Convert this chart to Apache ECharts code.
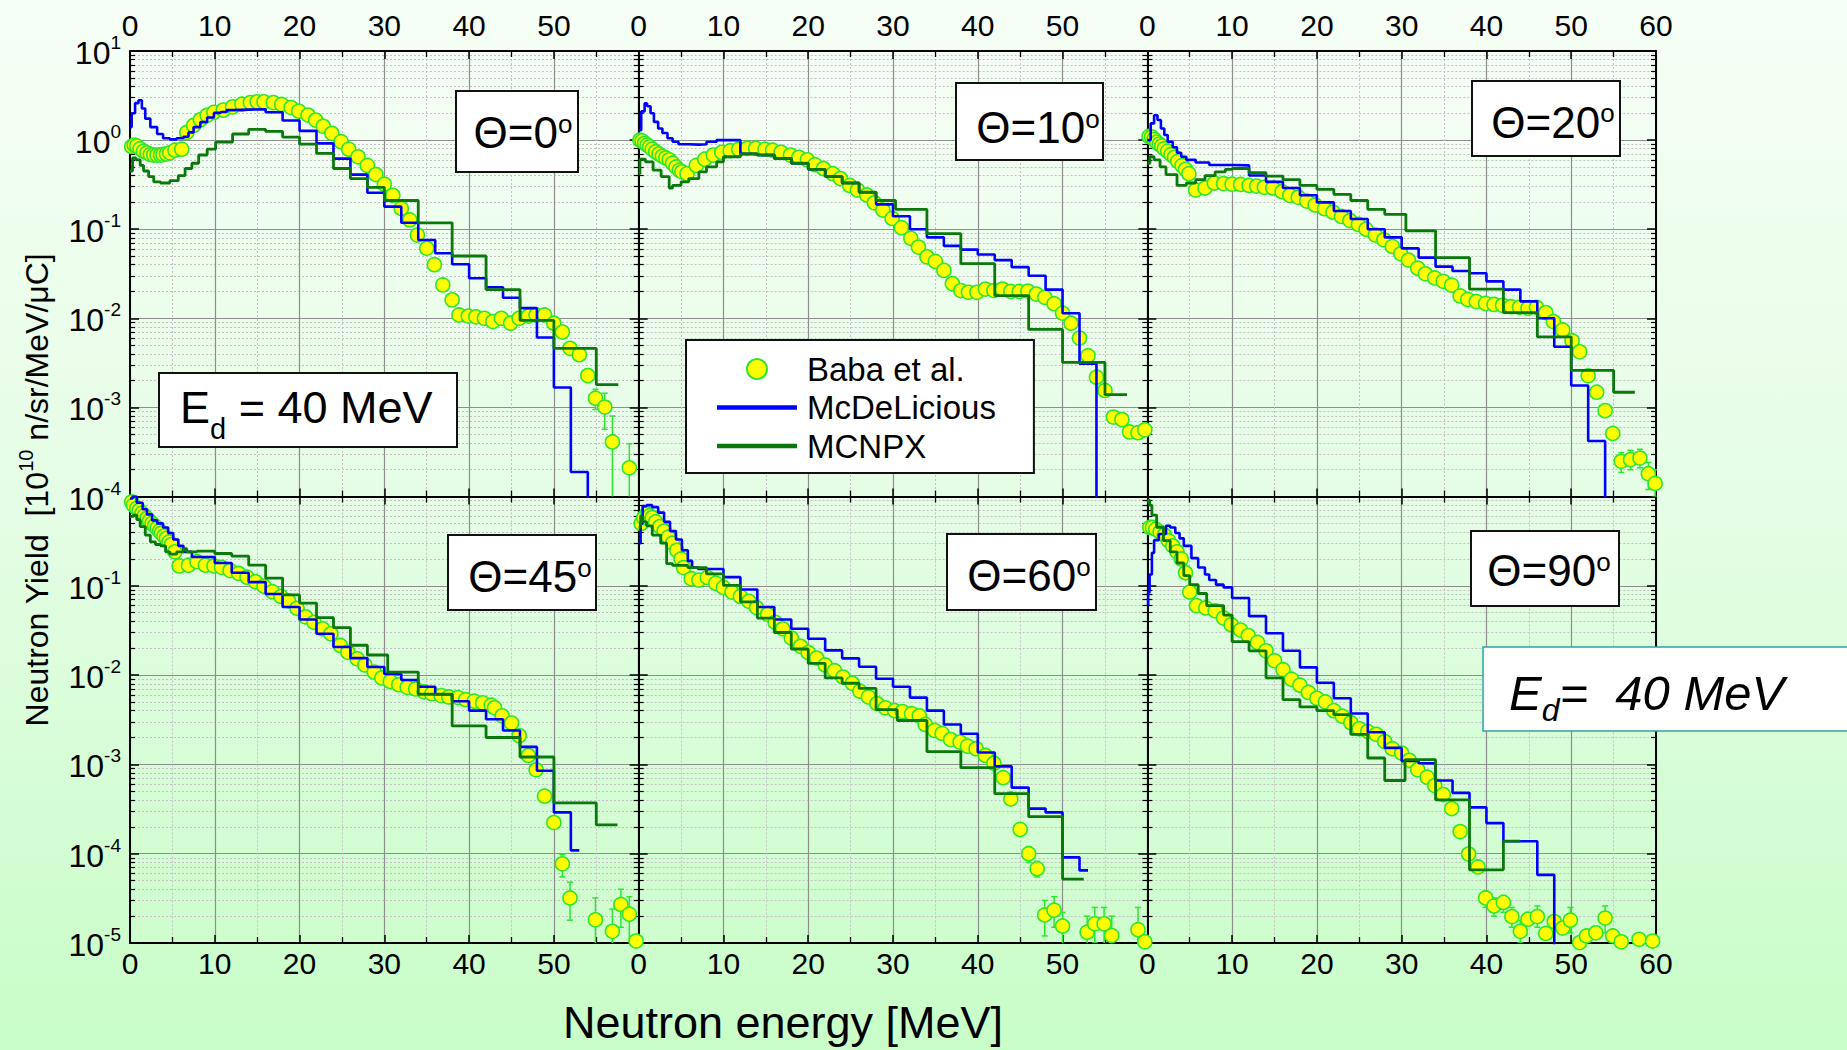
<!DOCTYPE html>
<html><head><meta charset="utf-8">
<script src="https://cdn.jsdelivr.net/npm/echarts@6/dist/echarts.min.js"></script>
<style>
html,body{margin:0;padding:0;width:1847px;height:1050px;overflow:hidden;background:linear-gradient(180deg,#f6fff6 0%,#e4fde4 50%,#c8fdc8 100%);}
#c{width:1847px;height:1050px;}
</style>
</head><body><div id="c"></div>
<script>
// ---------------- DATA ----------------
const panelAngles = ['0','10','20','45','60','90'];
const xTicks = [0,10,20,30,40,50,60];
const seriesNames = ['Baba et al.', 'McDeLicious', 'MCNPX'];

// Baba et al. measurements [E (MeV), yield]
const baba0 = [[0.2,0.85],[0.5,0.88],[0.8,0.86],[1.2,0.80],[1.6,0.75],[2.0,0.72],[2.4,0.69],[2.8,0.68],[3.2,0.68],[3.6,0.68],[3.9,0.69],[4.3,0.70],[4.7,0.72],[5.3,0.77],[6.1,0.79],[6.7,1.22],[7.5,1.46],[8.3,1.69],[9.1,1.90],[9.9,2.05],[11.0,2.17],[12.1,2.36],[13.2,2.53],[14.2,2.64],[15.0,2.69],[15.8,2.69],[16.9,2.64],[17.9,2.51],[19.0,2.32],[19.9,2.11],[21.0,1.91],[21.9,1.68],[22.8,1.43],[23.8,1.19],[24.9,0.96],[25.8,0.79],[26.9,0.65],[28.0,0.52],[29.0,0.41],[30.0,0.32],[31.0,0.24],[32.0,0.171],[33.0,0.127],[33.9,0.086],[35.0,0.061],[35.9,0.040],[36.9,0.0237],[38.0,0.0161],[38.8,0.0109],[39.9,0.0106],[40.8,0.0104],[41.8,0.0100],[42.8,0.0092],[43.8,0.0100],[44.9,0.0088],[45.9,0.0100],[47.0,0.0106],[47.9,0.0109],[48.9,0.0109],[50.0,0.0088],[51.0,0.0070],[51.9,0.0046],[53.0,0.0039],[54.0,0.00228],[54.9,0.00127],[56.0,0.00101],[56.9,0.00041],[58.9,0.00021]];
const baba1 = [[0.15,1.0],[0.4,0.98],[0.7,0.92],[1.0,0.88],[1.3,0.84],[1.6,0.79],[2.0,0.74],[2.4,0.70],[2.8,0.66],[3.2,0.63],[3.6,0.60],[4.0,0.55],[4.4,0.50],[4.8,0.46],[5.1,0.44],[5.7,0.42],[6.8,0.52],[7.8,0.61],[8.8,0.68],[9.8,0.73],[10.8,0.76],[11.8,0.79],[12.8,0.81],[13.8,0.81],[14.9,0.79],[15.8,0.77],[16.8,0.73],[17.9,0.68],[18.9,0.64],[19.9,0.60],[20.8,0.53],[21.8,0.48],[22.9,0.42],[23.8,0.37],[24.9,0.31],[25.8,0.275],[26.9,0.242],[27.8,0.198],[28.8,0.164],[29.9,0.132],[31.0,0.104],[32.1,0.079],[33.0,0.063],[34.0,0.049],[35.0,0.0435],[36.0,0.0345],[37.0,0.0245],[38.0,0.0205],[38.9,0.0196],[39.9,0.0196],[40.9,0.0213],[41.9,0.0205],[42.9,0.0213],[43.9,0.0200],[44.9,0.0200],[45.9,0.0202],[46.9,0.0187],[47.9,0.0172],[49.0,0.0146],[50.0,0.0114],[51.0,0.0088],[52.0,0.0060],[53.0,0.0038],[54.0,0.00218],[55.0,0.00155],[56.0,0.00078],[57.0,0.00073],[57.9,0.00053],[58.9,0.00052],[59.7,0.00056]];
const baba2 = [[0.2,1.10],[0.5,1.09],[0.8,1.02],[1.1,0.95],[1.4,0.90],[1.7,0.86],[2.0,0.80],[2.4,0.75],[2.8,0.69],[3.2,0.64],[3.6,0.58],[4.1,0.52],[4.5,0.47],[4.9,0.42],[5.7,0.275],[6.8,0.29],[7.9,0.33],[9.0,0.325],[10.0,0.32],[11.0,0.318],[12.0,0.31],[12.9,0.305],[13.8,0.295],[14.8,0.29],[15.9,0.264],[16.8,0.24],[17.8,0.228],[18.8,0.207],[19.8,0.187],[20.9,0.17],[21.9,0.155],[22.9,0.139],[23.9,0.125],[24.9,0.113],[25.8,0.10],[26.9,0.086],[27.9,0.076],[28.9,0.064],[29.9,0.053],[30.8,0.045],[31.9,0.0365],[32.8,0.0316],[33.9,0.0284],[34.9,0.026],[35.9,0.0235],[36.9,0.0178],[37.8,0.0163],[38.8,0.0154],[39.9,0.0147],[40.9,0.0143],[41.9,0.0140],[42.9,0.0135],[43.9,0.0133],[44.9,0.0130],[45.9,0.0133],[47.0,0.0116],[47.9,0.0092],[49.0,0.0074],[50.1,0.0056],[51.0,0.0042],[52.0,0.00226],[53.0,0.00148],[54.0,0.00092],[54.9,0.00051],[55.9,0.000248],[57.0,0.00026],[58.1,0.00027],[59.1,0.00018],[59.9,0.00014]];
const baba3 = [[0.2,0.87],[0.4,0.80],[0.8,0.74],[1.1,0.70],[1.4,0.65],[1.7,0.61],[2.0,0.57],[2.3,0.53],[2.6,0.50],[2.9,0.47],[3.2,0.44],[3.5,0.41],[3.7,0.39],[4.0,0.36],[4.3,0.34],[4.6,0.31],[4.9,0.29],[5.3,0.24],[5.8,0.167],[6.9,0.17],[7.9,0.186],[8.9,0.17],[9.9,0.167],[10.8,0.161],[11.8,0.148],[12.8,0.138],[13.8,0.125],[14.8,0.111],[15.8,0.099],[16.8,0.086],[17.8,0.076],[18.7,0.068],[19.7,0.056],[20.7,0.045],[21.7,0.039],[22.7,0.033],[23.7,0.029],[24.8,0.0215],[25.7,0.018],[26.8,0.0152],[27.7,0.013],[28.8,0.0108],[29.7,0.0093],[30.7,0.0085],[31.7,0.0078],[32.7,0.0073],[33.7,0.0070],[34.7,0.0065],[35.6,0.0062],[36.7,0.0059],[37.6,0.0057],[38.7,0.0056],[39.6,0.0053],[40.6,0.0051],[41.6,0.0049],[42.6,0.0046],[43.0,0.0043],[43.9,0.0035],[45.0,0.0029],[45.9,0.0021],[47.0,0.00126],[47.9,0.00087],[48.9,0.00044],[50.0,0.000223],[51.0,0.000077],[51.9,0.000032],[54.9,0.0000182],[56.9,0.0000135],[57.9,0.000027],[58.9,0.000021],[59.7,0.0000105]];
const baba4 = [[0.3,0.50],[0.6,0.58],[1.0,0.64],[1.3,0.61],[1.6,0.58],[2.0,0.52],[2.5,0.46],[3.0,0.41],[3.5,0.35],[4.0,0.30],[4.5,0.25],[5.0,0.20],[5.3,0.16],[6.2,0.12],[7.1,0.116],[8.1,0.124],[9.1,0.107],[10.0,0.096],[11.0,0.085],[12.0,0.076],[13.0,0.067],[13.9,0.057],[15.2,0.048],[16.1,0.039],[17.0,0.033],[18.0,0.026],[19.1,0.021],[20.0,0.0179],[21.0,0.0155],[22.0,0.0130],[23.1,0.0112],[24.1,0.0095],[25.2,0.0081],[26.1,0.0066],[27.1,0.0057],[28.1,0.0048],[29.1,0.0043],[30.2,0.0040],[31.1,0.0039],[32.2,0.0037],[33.1,0.0035],[33.8,0.0028],[34.9,0.0024],[35.8,0.00222],[36.8,0.0019],[37.9,0.00178],[38.8,0.0016],[39.8,0.0015],[40.9,0.00126],[41.9,0.00103],[43.0,0.00071],[43.9,0.00041],[45.0,0.000187],[46.0,0.0001],[47.0,0.000068],[47.9,0.0000206],[49.0,0.0000233],[50.0,0.0000155],[50.9,0.0000095],[52.9,0.0000132],[53.8,0.0000164],[54.9,0.0000164],[55.8,0.0000121],[58.9,0.0000141],[59.7,0.0000103]];
const baba5 = [[0.3,0.45],[0.6,0.45],[1.0,0.43],[1.5,0.40],[2.0,0.37],[2.5,0.32],[3.0,0.28],[3.5,0.24],[4.0,0.20],[4.5,0.14],[5.0,0.085],[5.8,0.060],[6.9,0.0565],[8.0,0.0525],[9.0,0.0435],[9.9,0.0367],[11.0,0.0319],[11.9,0.0277],[13.0,0.0232],[14.0,0.0187],[15.0,0.0145],[16.0,0.0115],[17.0,0.0090],[18.0,0.0077],[19.0,0.0064],[20.0,0.0055],[21.0,0.0050],[22.0,0.0040],[23.0,0.00347],[24.0,0.00293],[25.0,0.0025],[26.0,0.00234],[27.0,0.00217],[28.0,0.0018],[28.9,0.0015],[30.0,0.00134],[30.9,0.00111],[31.9,0.00087],[33.0,0.00072],[33.9,0.00058],[34.9,0.00046],[35.9,0.00032],[36.9,0.000177],[37.9,0.0000991],[39.0,0.000071],[39.9,0.000032],[40.9,0.000026],[42.0,0.0000285],[43.0,0.0000198],[44.0,0.0000135],[44.9,0.0000185],[46.0,0.0000198],[47.0,0.0000128],[48.0,0.0000174],[49.0,0.0000147],[49.9,0.000018],[51.0,0.0000101],[51.8,0.000012],[52.9,0.000013],[54.0,0.000019],[54.9,0.000012],[55.9,0.0000103],[58.0,0.000011],[59.6,0.0000105]];

// error bars [E, low, high]
const err0 = [[54.0,0.0019,0.0027],[54.9,0.00095,0.0016],[56.0,0.00057,0.00144],[56.9,0.00008,0.0008],[58.9,0.00005,0.00039]];
const err1 = [[55.0,0.00135,0.00175],[56.0,0.00068,0.0009],[57.0,0.00063,0.00083],[57.9,0.00045,0.00062],[58.9,0.00044,0.00061],[59.7,0.00047,0.00066]];
const err2 = [[55.9,0.000186,0.00031],[57.0,0.0002,0.00033],[58.1,0.00021,0.00034],[59.1,0.00012,0.00024],[59.9,0.0001,0.0002]];
const err3 = [[51.0,0.000055,0.000098],[51.9,0.000018,0.000048],[54.9,0.000009,0.000032],[56.9,0.000005,0.000024],[57.9,0.000015,0.00004],[58.9,0.000001,0.000033]];
const err4 = [[46.0,0.00008,0.00012],[47.0,0.000055,0.000082],[47.9,0.000012,0.00003],[49.0,0.000015,0.000033],[50.0,0.000009,0.000022],[52.9,0.000007,0.00002],[53.8,0.00001,0.000025],[54.9,0.000008,0.000025],[55.8,0.000006,0.00002],[58.9,0.000006,0.000025]];
const err5 = [[39.9,0.000025,0.000038],[40.9,0.00002,0.000032],[42.0,0.000022,0.000034],[43.0,0.000015,0.000025],[44.0,0.00001,0.000018],[46.0,0.000015,0.000026],[49.9,0.000013,0.000025],[54.0,0.000013,0.000026]];

// McDeLicious histograms [bin lower edge, value] (last = upper edge)
const mcdl0 = [[0,1.4],[0.2,2.0],[0.6,2.6],[1.0,2.8],[1.4,2.26],[1.8,1.74],[2.4,1.4],[3.2,1.17],[3.9,1.05],[4.7,1.02],[5.5,1.05],[6.3,1.09],[6.9,1.22],[7.5,1.40],[8.3,1.59],[9.1,1.79],[9.9,2.02],[10.7,2.07],[11.4,2.17],[12.2,2.2],[14,2.22],[16,2.05],[18,1.66],[20,1.27],[22,0.92],[24,0.62],[26,0.41],[28,0.257],[30,0.179],[32,0.118],[34,0.0757],[36,0.0537],[38,0.0404],[40,0.0281],[42,0.0223],[44,0.017],[46,0.013],[48,0.0061],[50,0.00167],[52,0.000188],[54,1e-7]];
const mcdl1 = [[0,1.29],[0.3,2.1],[0.7,2.58],[1.0,2.4],[1.4,2.0],[1.8,1.6],[2.3,1.35],[2.8,1.2],[3.4,1.05],[4.0,0.96],[4.7,0.9],[5.9,0.89],[7.1,0.9],[8.0,0.96],[9.2,1.0],[12,0.70],[14,0.68],[16,0.62],[18,0.55],[20,0.47],[22,0.39],[24,0.33],[26,0.26],[28,0.19],[30,0.14],[32,0.10],[34,0.081],[36,0.065],[38,0.059],[40,0.052],[42,0.045],[44,0.0375],[46,0.030],[48,0.021],[50,0.0114],[52,0.0031],[54,1e-7]];
const mcdl2 = [[0,1.0],[0.4,1.54],[0.8,1.9],[1.2,1.68],[1.6,1.35],[2.0,1.14],[2.4,0.96],[3.0,0.83],[3.5,0.72],[4.0,0.65],[4.6,0.60],[5.7,0.56],[7.3,0.525],[10,0.52],[12,0.40],[14,0.34],[16,0.29],[18,0.24],[20,0.20],[22,0.16],[24,0.13],[26,0.10],[28,0.081],[30,0.061],[32,0.048],[34,0.038],[36,0.034],[38,0.032],[40,0.026],[42,0.021],[44,0.0155],[46,0.0100],[48,0.0048],[50,0.00176],[52,0.00042],[54,1e-7]];
const mcdl3 = [[0,0.95],[0.3,1.0],[0.8,0.85],[1.5,0.72],[2.0,0.63],[2.6,0.54],[3.2,0.5],[3.9,0.45],[4.5,0.39],[5.1,0.33],[5.7,0.28],[6.3,0.24],[7.3,0.21],[10,0.18],[12,0.14],[14,0.11],[16,0.081],[18,0.058],[20,0.042],[22,0.029],[24,0.0206],[26,0.0155],[28,0.0123],[30,0.0103],[32,0.0088],[34,0.0074],[36,0.0061],[38,0.0051],[40,0.0040],[42,0.0032],[44,0.0024],[46,0.00157],[48,0.00085],[50,0.00029],[52,0.000109],[53,0.000109]];
const mcdl4 = [[0,0.30],[0.23,0.50],[0.47,0.78],[0.93,0.80],[1.6,0.76],[2.3,0.66],[3.0,0.52],[3.7,0.41],[4.4,0.33],[5.1,0.25],[5.8,0.19],[6.3,0.16],[7,0.154],[10,0.125],[12,0.091],[14,0.058],[16,0.042],[18,0.033],[20,0.0255],[22,0.0189],[24,0.0154],[26,0.0124],[28,0.0091],[30,0.0074],[32,0.0056],[34,0.0040],[36,0.0028],[38,0.0022],[40,0.00136],[42,0.00095],[44,0.00055],[46,0.00032],[48,0.00029],[50,0.000091],[52,0.000065],[53,0.000065]];
const mcdl5 = [[0,0.06],[0.1,0.084],[0.27,0.134],[0.54,0.234],[0.8,0.325],[1.36,0.38],[2.2,0.47],[2.7,0.45],[3.3,0.39],[3.8,0.34],[4.3,0.28],[5.2,0.204],[6.0,0.16],[6.8,0.134],[7.3,0.116],[8.1,0.103],[9,0.096],[10,0.073],[12,0.0457],[14,0.0294],[16,0.0187],[18,0.0122],[20,0.0082],[22,0.0055],[24,0.00372],[26,0.00229],[28,0.00153],[30,0.00109],[32,0.00103],[34,0.00066],[36,0.00048],[38,0.00033],[40,0.00022],[42,0.000138],[46,0.000058],[48,1e-8]];

// MCNPX histograms [bin lower edge, value] (last = upper edge)
const mcnpx0 = [[0,0.45],[0.3,0.63],[0.7,0.6],[1.2,0.52],[1.6,0.45],[2.2,0.39],[2.8,0.34],[3.6,0.33],[4.7,0.35],[5.7,0.40],[6.5,0.48],[7.3,0.55],[8.1,0.68],[9.1,0.79],[10.1,0.95],[12.1,1.17],[14,1.32],[16,1.25],[18,1.08],[20,0.9],[22,0.71],[24,0.48],[26,0.37],[28,0.295],[30,0.21],[34,0.118],[38,0.05],[42,0.021],[46,0.0095],[50,0.0046],[55,0.0018],[57.6,0.0018]];
const mcnpx1 = [[0,0.42],[0.15,0.61],[0.8,0.57],[1.7,0.46],[2.65,0.39],[3.6,0.29],[4.0,0.31],[5.0,0.34],[5.9,0.37],[7.1,0.44],[8.0,0.50],[9.2,0.57],[10,0.65],[12,0.70],[14,0.68],[16,0.62],[18,0.55],[20,0.47],[22,0.39],[24,0.33],[26,0.26],[28,0.21],[30.3,0.167],[34,0.089],[38,0.041],[42,0.018],[46,0.0075],[50,0.0032],[55,0.00139],[57.6,0.00139]];
const mcnpx2 = [[0,0.55],[0.3,0.65],[0.8,0.6],[1.5,0.50],[2.2,0.41],[3.5,0.31],[4.6,0.33],[5.7,0.36],[6.8,0.40],[8.0,0.44],[9.2,0.47],[10,0.48],[12,0.43],[14,0.395],[16,0.36],[18,0.31],[20,0.28],[22,0.246],[24,0.21],[26,0.167],[28,0.147],[30.5,0.096],[34,0.048],[38,0.0212],[42,0.0116],[46,0.0062],[50,0.0026],[55,0.00148],[57.5,0.00148]];
const mcnpx3 = [[0,0.6],[0.4,0.62],[0.8,0.55],[1.2,0.46],[1.8,0.37],[2.4,0.31],[3.0,0.29],[3.6,0.28],[4.2,0.24],[4.7,0.226],[5.5,0.24],[6.3,0.26],[6.7,0.24],[7.9,0.245],[10,0.23],[12,0.215],[14,0.17],[16,0.122],[18,0.079],[20,0.064],[22,0.044],[24,0.034],[26,0.0216],[28,0.0168],[30.4,0.0108],[34,0.0061],[38,0.0027],[42,0.0020],[46,0.00121],[50,0.00037],[55,0.00021],[57.5,0.00021]];
const mcnpx4 = [[0,0.45],[0.23,0.60],[0.5,0.52],[0.93,0.47],[1.6,0.37],[2.6,0.30],[3.3,0.177],[4,0.169],[5.8,0.16],[8,0.136],[10,0.101],[12,0.066],[14,0.0435],[16,0.030],[18,0.0196],[20,0.0135],[22,0.0093],[24,0.0081],[26,0.0071],[28,0.0041],[30.5,0.0031],[34,0.00139],[38,0.00092],[42,0.00047],[46,0.00026],[50,0.000052],[52.5,0.000052]];
const mcnpx5 = [[0,0.87],[0.1,0.91],[0.27,0.80],[0.54,0.62],[1.1,0.45],[1.9,0.32],[2.7,0.24],[3.5,0.18],[4.3,0.13],[5,0.103],[6,0.082],[7,0.06],[9,0.047],[10,0.0237],[12,0.0187],[14,0.0093],[16,0.0053],[18,0.0044],[20,0.0040],[22,0.0036],[24,0.00217],[26,0.00118],[28,0.00066],[30.4,0.00113],[34,0.00040],[38,0.000066],[42,0.000138],[44,0.000138]];

const babaSets = [baba0,baba1,baba2,baba3,baba4,baba5];
const errSets = [err0,err1,err2,err3,err4,err5];
const mcdlSets = [mcdl0,mcdl1,mcdl2,mcdl3,mcdl4,mcdl5];
const mcnpxSets = [mcnpx0,mcnpx1,mcnpx2,mcnpx3,mcnpx4,mcnpx5];

// ---------------- LAYOUT ----------------
const FONT = "'Liberation Sans', Arial, 'DejaVu Sans', sans-serif";
const colLeft = [130, 638.67, 1147.33];
const colWidth = 508.67;
const rowTop = [51, 496.5];
const rowHeight = [445.5, 446.5];
const yRange = [[1e-4, 10], [1e-5, 1]];
const BLUE = '#0000ff', GREEN = '#0a780a';

const chart = echarts.init(document.getElementById('c'), null, {renderer: 'svg'});

const grids = [], xAxes = [], yAxes = [], series = [];
const majorGrid = {show: true, lineStyle: {color: '#8e8e8e', width: 1.2}};
const minorGrid = {show: true, lineStyle: {color: '#c2c2c2', width: 1, type: [2, 2]}};
const axisLineS = {show: true, onZero: false, lineStyle: {color: '#000', width: 2}};

function errRender(params, api) {
  const x = api.value(0);
  const a = api.coord([x, api.value(1)]);
  const b = api.coord([x, api.value(2)]);
  const st = {stroke: '#2fe62f', lineWidth: 1.5};
  return {type: 'group', children: [
    {type: 'line', shape: {x1: a[0], y1: a[1], x2: b[0], y2: b[1]}, style: st},
    {type: 'line', shape: {x1: a[0] - 3, y1: a[1], x2: a[0] + 3, y2: a[1]}, style: st},
    {type: 'line', shape: {x1: b[0] - 3, y1: b[1], x2: b[0] + 3, y2: b[1]}, style: st}
  ]};
}

for (let p = 0; p < 6; p++) {
  const r = p < 3 ? 0 : 1, c = p % 3;
  grids.push({left: colLeft[c], top: rowTop[r], width: colWidth, height: rowHeight[r], show: false, containLabel: false});
  const xCommon = {type: 'value', gridIndex: p, min: xTicks[0], max: xTicks[xTicks.length - 1], interval: 10,
    axisLine: axisLineS,
    axisTick: {show: true, inside: true, length: 8, lineStyle: {color: '#000', width: 1.5}},
    minorTick: {show: true, splitNumber: 2, length: 6, lineStyle: {color: '#000', width: 1.3}}};
  xAxes.push(Object.assign({}, xCommon, {
    position: r === 0 ? 'top' : 'bottom',
    axisLabel: {show: true, fontSize: 30, fontFamily: FONT, color: '#000', margin: r === 0 ? 11 : 5,
      showMinLabel: true, showMaxLabel: true,
      formatter: v => (v === 60 && c < 2) ? '' : String(v)},
    splitLine: majorGrid, minorSplitLine: minorGrid}));
  xAxes.push(Object.assign({}, xCommon, {
    position: r === 0 ? 'bottom' : 'top',
    axisLabel: {show: false}, splitLine: {show: false}, minorSplitLine: {show: false}}));

  const yCommon = {type: 'log', logBase: 10, gridIndex: p, min: yRange[r][0], max: yRange[r][1], splitNumber: 5,
    axisLine: axisLineS,
    axisTick: {show: true, inside: true, length: 9, lineStyle: {color: '#000', width: 1.5}},
    minorTick: {show: true, splitNumber: 9, length: 5, lineStyle: {color: '#000', width: 1.2}}};
  yAxes.push(Object.assign({}, yCommon, {
    position: 'left',
    axisLabel: {show: c === 0, margin: 9, showMinLabel: true, showMaxLabel: true,
      formatter: v => {
        const e = Math.round(Math.log10(v));
        if (r === 1 && e === 0) return '';
        return '{b|10}{s|' + e + '}';
      },
      rich: {
        b: {fontSize: 32, lineHeight: 36, verticalAlign: 'bottom', fontFamily: FONT, color: '#000'},
        s: {fontSize: 19, lineHeight: 19, verticalAlign: 'top', fontFamily: FONT, color: '#000'}
      }},
    splitLine: majorGrid, minorSplitLine: minorGrid}));
  yAxes.push(Object.assign({}, yCommon, {
    position: 'right', axisLabel: {show: false}, splitLine: {show: false}, minorSplitLine: {show: false}}));

  const xi = 2 * p, yi = 2 * p;
  series.push({type: 'custom', name: 'err', xAxisIndex: xi, yAxisIndex: yi, renderItem: errRender,
    data: errSets[p], clip: true, z: 1, silent: true, encode: {x: 0, y: [1, 2]}});
  series.push({type: 'scatter', name: seriesNames[0], xAxisIndex: xi, yAxisIndex: yi, data: babaSets[p],
    symbol: 'circle', symbolSize: 14, clip: true, z: 2,
    itemStyle: {color: '#ffff00', borderColor: '#2fe62f', borderWidth: 1.6, opacity: 1}});
  series.push({type: 'line', name: seriesNames[1], xAxisIndex: xi, yAxisIndex: yi, data: mcdlSets[p],
    step: 'end', symbol: 'none', showSymbol: false, clip: true, z: 3,
    lineStyle: {color: BLUE, width: 2.6}, itemStyle: {color: BLUE}});
  series.push({type: 'line', name: seriesNames[2], xAxisIndex: xi, yAxisIndex: yi, data: mcnpxSets[p],
    step: 'end', symbol: 'none', showSymbol: false, clip: true, z: 4,
    lineStyle: {color: GREEN, width: 2.8}, itemStyle: {color: GREEN}});
}

// annotation boxes
const thetaBoxes = [[456,91,122,81],[956,83,147,77],[1472,81,148,75],[448,535,148,75],[947,534,149,76],[1471,531,148,75]];
const thetaText = [[523,132.5],[1038,127.5],[1553,122],[530,576.5],[1029,575.5],[1549,570.5]];
const graphics = [];
panelAngles.forEach((a, i) => {
  const b = thetaBoxes[i], t = thetaText[i];
  graphics.push({type: 'rect', shape: {x: b[0], y: b[1], width: b[2], height: b[3]},
    style: {fill: '#ffffff', stroke: '#111', lineWidth: 2}, z: 100});
  graphics.push({type: 'text', x: t[0], y: t[1], z: 101,
    style: {text: '{m|Θ=' + a + '}{o|o}', align: 'center', verticalAlign: 'middle',
      textAlign: 'center', textVerticalAlign: 'middle',
      rich: {m: {fontSize: 44, lineHeight: 44, verticalAlign: 'top', fontFamily: FONT, fill: '#000', color: '#000'},
             o: {fontSize: 26, lineHeight: 26, verticalAlign: 'top', fontFamily: FONT, fill: '#000', color: '#000'}}}});
});
// E_d box in first panel
graphics.push({type: 'rect', shape: {x: 159, y: 373, width: 298, height: 74},
  style: {fill: '#ffffff', stroke: '#111', lineWidth: 2}, z: 100});
graphics.push({type: 'text', x: 180, y: 414, z: 101,
  style: {text: '{m|E}{d|d}{m| = 40 MeV}', align: 'left', verticalAlign: 'middle', textAlign: 'left', textVerticalAlign: 'middle',
    rich: {m: {fontSize: 45, lineHeight: 45, verticalAlign: 'top', fontFamily: FONT, fill: '#000', color: '#000'},
           d: {fontSize: 29, lineHeight: 58, verticalAlign: 'bottom', fontFamily: FONT, fill: '#000', color: '#000'}}}});
// right italic box
graphics.push({type: 'rect', shape: {x: 1483, y: 647, width: 380, height: 84},
  style: {fill: '#ffffff', stroke: '#2ea3a8', lineWidth: 1.5}, z: 100});
graphics.push({type: 'text', x: 1509, y: 697, z: 101,
  style: {text: '{m|E}{d|d}{m|=  40 MeV}', align: 'left', verticalAlign: 'middle', textAlign: 'left', textVerticalAlign: 'middle',
    rich: {m: {fontSize: 49, lineHeight: 49, verticalAlign: 'top', fontStyle: 'italic', fontFamily: FONT, fill: '#000', color: '#000'},
           d: {fontSize: 32, lineHeight: 58, verticalAlign: 'bottom', fontStyle: 'italic', fontFamily: FONT, fill: '#000', color: '#000'}}}});
// axis titles
graphics.push({type: 'text', x: 34, y: 490, rotation: Math.PI / 2, z: 101,
  style: {text: '{t|Neutron Yield  [10}{s|10}{t| n/sr/MeV/μC]}', align: 'center', verticalAlign: 'middle', textAlign: 'center', textVerticalAlign: 'middle',
    rich: {t: {fontSize: 32, lineHeight: 37, verticalAlign: 'bottom', fontFamily: FONT, fill: '#000', color: '#000'},
           s: {fontSize: 20, lineHeight: 20, verticalAlign: 'top', fontFamily: FONT, fill: '#000', color: '#000'}}}});
graphics.push({type: 'text', x: 783, y: 1022, z: 101,
  style: {text: 'Neutron energy [MeV]', fontSize: 45, lineHeight: 45, fontFamily: FONT, fill: '#000', align: 'center', verticalAlign: 'middle', textAlign: 'center', textVerticalAlign: 'middle'}});

const lineIcon = 'path://M0,0H80V4.5H0Z';
chart.setOption({
  animation: false,
  backgroundColor: 'transparent',
  grid: grids, xAxis: xAxes, yAxis: yAxes, series: series,
  legend: {
    data: [{name: seriesNames[0]}, {name: seriesNames[1], icon: lineIcon}, {name: seriesNames[2], icon: lineIcon}],
    left: 686, top: 340, orient: 'vertical', z: 120,
    backgroundColor: '#ffffff', borderColor: '#111', borderWidth: 2, borderRadius: 0,
    padding: [12, 38, 10, 31], itemWidth: 80, itemHeight: 20, itemGap: 4.5,
    symbolKeepAspect: true,
    selectedMode: false,
    textStyle: {fontSize: 33, lineHeight: 34, fontFamily: FONT, color: '#000', padding: [0, 0, 0, 5]}
  },
  graphic: {elements: graphics}
});
</script>
</body></html>
